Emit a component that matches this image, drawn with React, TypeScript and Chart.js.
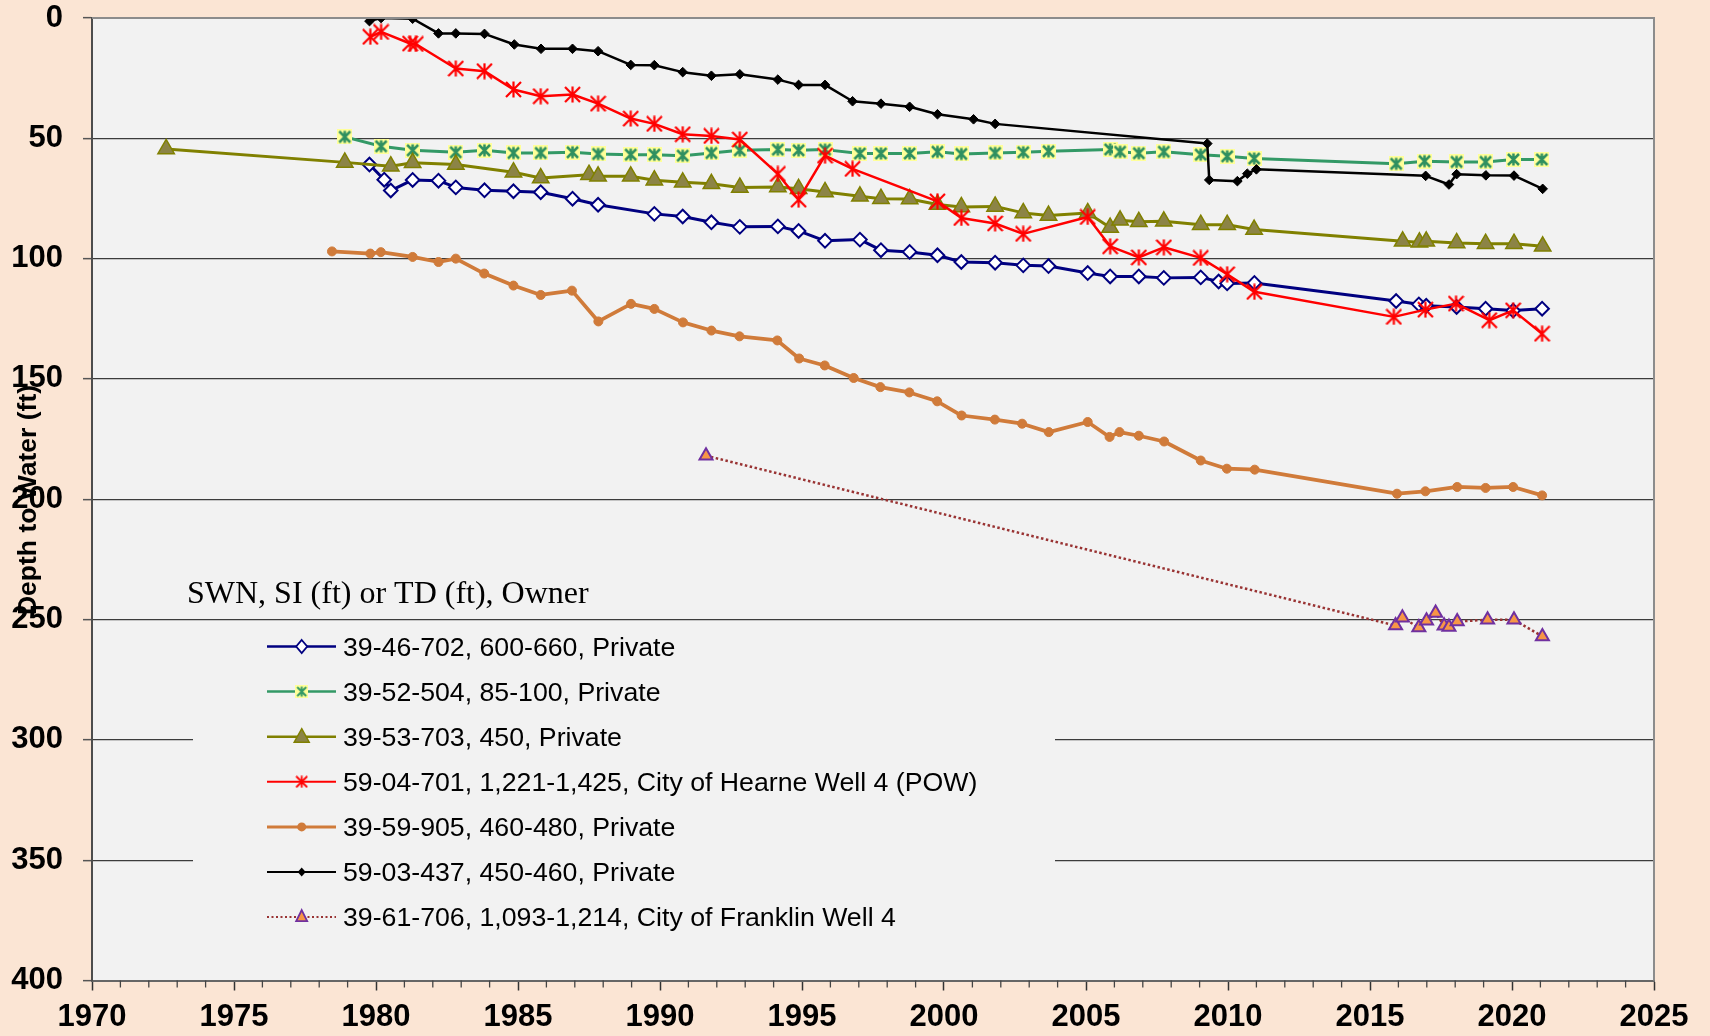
import React, { useEffect, useRef } from "react";
import { Chart, registerables } from "chart.js";

Chart.register(...registerables);

// ---------- axis settings ----------
const xMin = 1970;
const xMax = 2025;
const yMin = 0;
const yMax = 400;
const yTickStep = 50;
const xLabelStep = 5;

// ---------- texts ----------
const yAxisTitle = "Depth to Water (ft)";
const legendTitle = "SWN, SI (ft) or TD (ft), Owner";
const seriesNames = [
  "39-46-702, 600-660, Private",
  "39-52-504, 85-100, Private",
  "39-53-703, 450, Private",
  "59-04-701, 1,221-1,425, City of Hearne Well 4 (POW)",
  "39-59-905, 460-480, Private",
  "59-03-437, 450-460, Private",
  "39-61-706, 1,093-1,214, City of Franklin Well 4",
];

// ---------- data (year, depth to water in ft) ----------
const w4646702Years = [1979.77, 1980.29, 1980.52, 1981.29, 1982.2, 1982.81, 1983.82, 1984.84, 1985.8, 1986.92, 1987.82, 1989.8, 1990.8, 1991.81, 1992.81, 1994.15, 1994.88, 1995.81, 1997.04, 1997.78, 1998.79, 1999.77, 2000.61, 2001.8, 2002.79, 2003.68, 2005.06, 2005.85, 2006.86, 2007.74, 2009.04, 2009.67, 2009.97, 2010.93, 2015.92, 2016.72, 2016.98, 2018.05, 2019.07, 2020.04, 2021.06];
const w4646702Depths = [60.9, 67.2, 71.7, 67.3, 67.6, 70.4, 71.6, 72.0, 72.4, 75.1, 77.6, 81.4, 82.5, 84.9, 86.8, 86.6, 88.5, 92.6, 92.1, 96.5, 97.2, 98.6, 101.4, 101.7, 102.8, 103.1, 106.0, 107.4, 107.4, 108.0, 107.8, 109.5, 110.3, 110.1, 117.6, 119.0, 119.6, 120.1, 120.8, 121.6, 120.8];

const w3952504Years = [1978.9, 1980.18, 1981.29, 1982.81, 1983.82, 1984.84, 1985.8, 1986.92, 1987.82, 1988.97, 1989.8, 1990.8, 1991.81, 1992.81, 1994.15, 1994.88, 1995.81, 1997.04, 1997.78, 1998.79, 1999.77, 2000.61, 2001.8, 2002.79, 2003.68, 2005.85, 2006.2, 2006.86, 2007.74, 2009.04, 2009.97, 2010.92, 2015.92, 2016.92, 2018.05, 2019.07, 2020.05, 2021.05];
const w3952504Depths = [49.4, 53.3, 55.0, 55.8, 55.0, 56.1, 56.1, 55.8, 56.5, 56.8, 56.8, 57.2, 56.1, 55.0, 54.7, 55.0, 54.7, 56.3, 56.3, 56.3, 55.6, 56.5, 56.1, 55.8, 55.4, 54.6, 55.6, 56.2, 55.6, 56.8, 57.5, 58.4, 60.6, 59.5, 59.8, 59.8, 58.8, 58.8];

const w3953703Years = [1972.61, 1978.9, 1980.52, 1981.29, 1982.81, 1984.84, 1985.8, 1987.5, 1987.82, 1988.97, 1989.8, 1990.8, 1991.81, 1992.81, 1994.15, 1994.88, 1995.81, 1997.04, 1997.78, 1998.79, 1999.77, 2000.61, 2001.8, 2002.79, 2003.68, 2005.06, 2005.85, 2006.2, 2006.86, 2007.74, 2009.04, 2009.97, 2010.92, 2016.15, 2016.74, 2016.98, 2018.05, 2019.07, 2020.07, 2021.08];
const w3953703Depths = [54.4, 60.0, 61.6, 60.2, 60.9, 64.1, 66.5, 65.1, 65.8, 65.8, 67.4, 68.3, 68.9, 70.4, 70.2, 71.0, 72.3, 74.1, 75.1, 75.2, 77.5, 78.5, 78.3, 81.0, 82.1, 81.0, 87.1, 84.1, 84.7, 84.5, 85.9, 85.9, 87.9, 92.8, 93.2, 92.8, 93.5, 93.8, 93.8, 94.9];

const w5904701Years = [1979.8, 1980.18, 1981.2, 1981.4, 1982.81, 1983.82, 1984.84, 1985.8, 1986.92, 1987.82, 1988.97, 1989.8, 1990.8, 1991.81, 1992.81, 1994.15, 1994.88, 1995.81, 1996.78, 1999.77, 2000.61, 2001.8, 2002.79, 2005.06, 2005.85, 2006.86, 2007.74, 2009.04, 2009.97, 2010.93, 2015.84, 2016.95, 2018.03, 2019.2, 2020.04, 2021.06];
const w5904701Depths = [7.8, 5.8, 10.6, 10.8, 21.0, 22.1, 29.7, 32.5, 31.8, 35.6, 41.8, 44.0, 48.3, 49.0, 50.5, 64.8, 75.5, 57.2, 62.7, 76.2, 83.1, 85.4, 89.7, 82.7, 94.9, 99.5, 95.3, 99.7, 106.5, 113.8, 124.2, 121.2, 118.7, 125.6, 121.5, 131.2];

const w3959905Years = [1978.45, 1979.8, 1980.17, 1981.29, 1982.2, 1982.81, 1983.81, 1984.84, 1985.8, 1986.9, 1987.83, 1988.98, 1989.8, 1990.81, 1991.81, 1992.8, 1994.13, 1994.9, 1995.8, 1996.82, 1997.76, 1998.78, 1999.76, 2000.62, 2001.79, 2002.75, 2003.69, 2005.06, 2005.83, 2006.18, 2006.86, 2007.75, 2009.04, 2009.96, 2010.94, 2015.95, 2016.95, 2018.07, 2019.07, 2020.04, 2021.06];
const w3959905Depths = [97.0, 97.9, 97.3, 99.3, 101.4, 100.0, 106.2, 111.2, 115.1, 113.3, 126.1, 118.8, 120.9, 126.5, 129.9, 132.3, 134.0, 141.5, 144.4, 149.6, 153.4, 155.6, 159.3, 165.2, 166.9, 168.6, 172.1, 167.9, 174.1, 172.1, 173.6, 176.0, 183.9, 187.3, 187.7, 197.7, 196.7, 194.9, 195.3, 194.9, 198.4];

const w5903437Years = [1979.77, 1980.18, 1981.29, 1982.2, 1982.81, 1983.82, 1984.87, 1985.81, 1986.92, 1987.82, 1988.97, 1989.8, 1990.8, 1991.81, 1992.81, 1994.15, 1994.88, 1995.81, 1996.78, 1997.78, 1998.79, 1999.77, 2001.04, 2001.8, 2009.27, 2009.34, 2010.33, 2010.68, 2011.0, 2016.96, 2017.78, 2018.05, 2019.08, 2020.07, 2021.08];
const w5903437Depths = [1.3, 0, 0.3, 6.4, 6.4, 6.6, 11.0, 12.8, 12.8, 13.8, 19.5, 19.6, 22.5, 24.0, 23.4, 25.6, 27.8, 27.8, 34.6, 35.6, 36.9, 40.0, 42.1, 44.0, 52.2, 67.3, 67.8, 64.7, 62.9, 65.6, 69.2, 64.9, 65.4, 65.5, 71.0];

const w3961706Years = [1991.62, 2015.9, 2016.14, 2016.72, 2016.99, 2017.31, 2017.61, 2017.78, 2018.07, 2019.14, 2020.07, 2021.07];
const w3961706Depths = [181.9, 252.5, 249.2, 253.3, 250.5, 247.3, 252.6, 253.1, 250.8, 250.1, 250.1, 257.0];

const seriesYears = [w4646702Years, w3952504Years, w3953703Years, w5904701Years, w3959905Years, w5903437Years, w3961706Years];
const seriesDepths = [w4646702Depths, w3952504Depths, w3953703Depths, w5904701Depths, w3959905Depths, w5903437Depths, w3961706Depths];

// ---------- styles ----------
type Marker = "diamondOpen" | "starGreen" | "triOlive" | "starRed" | "dot" | "diamondBlack" | "triFranklin";
const seriesStyles: { color: string; width: number; dash: number[]; legendWidth: number; marker: Marker }[] = [
  { color: "#000080", width: 3, dash: [], legendWidth: 2.5, marker: "diamondOpen" },
  { color: "#339966", width: 3, dash: [], legendWidth: 2.5, marker: "starGreen" },
  { color: "#808000", width: 3, dash: [], legendWidth: 2.5, marker: "triOlive" },
  { color: "#FF0000", width: 2.5, dash: [], legendWidth: 2, marker: "starRed" },
  { color: "#D07B3A", width: 3.75, dash: [], legendWidth: 3, marker: "dot" },
  { color: "#000000", width: 2.5, dash: [], legendWidth: 2, marker: "diamondBlack" },
  { color: "#993333", width: 2.5, dash: [2.5, 2.5], legendWidth: 2, marker: "triFranklin" },
];

const PAGE_BG = "#FBE5D4";
const PLOT_BG = "#F2F2F2";
const SANS = '"Liberation Sans", Arial, sans-serif';
const SERIF = '"Liberation Serif", "Times New Roman", serif';

function makeStar(size: number, color: string, lw: number, bg: string | null): HTMLCanvasElement {
  const c = document.createElement("canvas");
  c.width = size;
  c.height = size;
  const g = c.getContext("2d")!;
  const m = size / 2;
  if (bg) {
    g.fillStyle = bg;
    g.fillRect(0, 0, size, size);
  }
  const r = m - (bg ? 2 : 1);
  g.strokeStyle = color;
  g.lineWidth = lw;
  g.beginPath();
  g.moveTo(m, m - r - 0.5);
  g.lineTo(m, m + r + 0.5);
  g.moveTo(m - r, m - r);
  g.lineTo(m + r, m + r);
  g.moveTo(m - r, m + r);
  g.lineTo(m + r, m - r);
  g.stroke();
  return c;
}

function pointOpts(marker: Marker, stars: Record<string, HTMLCanvasElement>) {
  switch (marker) {
    case "diamondOpen":
      return { pointStyle: "rectRot", pointRadius: 6.8, pointBackgroundColor: "#FFFFFF", pointBorderColor: "#000080", pointBorderWidth: 2 };
    case "starGreen":
      return { pointStyle: stars.green, pointRadius: 8 };
    case "triOlive":
      return { pointStyle: "triangle", pointRadius: 9.5, pointBackgroundColor: "#8C8446", pointBorderColor: "#808000", pointBorderWidth: 1.5 };
    case "starRed":
      return { pointStyle: stars.red, pointRadius: 9 };
    case "dot":
      return { pointStyle: "circle", pointRadius: 4.5, pointBackgroundColor: "#D07B3A", pointBorderColor: "#D07B3A", pointBorderWidth: 1 };
    case "diamondBlack":
      return { pointStyle: "rectRot", pointRadius: 4.8, pointBackgroundColor: "#000000", pointBorderColor: "#000000", pointBorderWidth: 1 };
    case "triFranklin":
    default:
      return { pointStyle: "triangle", pointRadius: 7.5, pointBackgroundColor: "#F79646", pointBorderColor: "#7030A0", pointBorderWidth: 2 };
  }
}

function drawLegendMarker(ctx: CanvasRenderingContext2D, marker: Marker, x: number, y: number, stars: Record<string, HTMLCanvasElement>) {
  ctx.save();
  ctx.setLineDash([]);
  switch (marker) {
    case "diamondOpen":
      ctx.beginPath();
      ctx.moveTo(x, y - 6.5);
      ctx.lineTo(x + 5.5, y);
      ctx.lineTo(x, y + 6.5);
      ctx.lineTo(x - 5.5, y);
      ctx.closePath();
      ctx.fillStyle = "#FFFFFF";
      ctx.fill();
      ctx.strokeStyle = "#000080";
      ctx.lineWidth = 1.8;
      ctx.stroke();
      break;
    case "starGreen":
      ctx.drawImage(stars.greenSmall, x - stars.greenSmall.width / 2, y - stars.greenSmall.height / 2);
      break;
    case "starRed":
      ctx.drawImage(stars.redSmall, x - stars.redSmall.width / 2, y - stars.redSmall.height / 2);
      break;
    case "triOlive":
      ctx.beginPath();
      ctx.moveTo(x, y - 8);
      ctx.lineTo(x + 7.5, y + 5.5);
      ctx.lineTo(x - 7.5, y + 5.5);
      ctx.closePath();
      ctx.fillStyle = "#8C8446";
      ctx.fill();
      ctx.strokeStyle = "#808000";
      ctx.lineWidth = 1.5;
      ctx.stroke();
      break;
    case "dot":
      ctx.beginPath();
      ctx.arc(x, y, 4.5, 0, Math.PI * 2);
      ctx.fillStyle = "#D07B3A";
      ctx.fill();
      break;
    case "diamondBlack":
      ctx.beginPath();
      ctx.moveTo(x, y - 4.5);
      ctx.lineTo(x + 4, y);
      ctx.lineTo(x, y + 4.5);
      ctx.lineTo(x - 4, y);
      ctx.closePath();
      ctx.fillStyle = "#000000";
      ctx.fill();
      break;
    case "triFranklin":
      ctx.beginPath();
      ctx.moveTo(x, y - 7);
      ctx.lineTo(x + 5.5, y + 4);
      ctx.lineTo(x - 5.5, y + 4);
      ctx.closePath();
      ctx.fillStyle = "#F79646";
      ctx.fill();
      ctx.strokeStyle = "#7030A0";
      ctx.lineWidth = 1.8;
      ctx.stroke();
      break;
  }
  ctx.restore();
}

export default function App() {
  const canvasRef = useRef<HTMLCanvasElement | null>(null);

  useEffect(() => {
    document.body.style.margin = "0";
    document.body.style.background = PAGE_BG;
    const canvas = canvasRef.current;
    if (!canvas) return;

    const stars: Record<string, HTMLCanvasElement> = {
      green: makeStar(15, "#2F9060", 2.5, "#FFFF99"),
      greenSmall: makeStar(13, "#339966", 2, "#FFFF99"),
      red: makeStar(17, "#FF0000", 2.2, null),
      redSmall: makeStar(13, "#FF0000", 1.8, null),
    };

    const datasets = seriesNames.map((name, i) => {
      const st = seriesStyles[i];
      const yrs = seriesYears[i];
      const dps = seriesDepths[i];
      return {
        label: name,
        data: yrs.map((yr, k) => ({ x: yr, y: dps[k] })),
        borderColor: st.color,
        borderWidth: st.width,
        borderDash: st.dash,
        borderJoinStyle: "round" as const,
        tension: 0,
        fill: false,
        order: seriesNames.length - i,
        ...pointOpts(st.marker, stars),
      };
    });

    const decor = {
      id: "decor",
      beforeDraw(chart: any) {
        const { ctx, chartArea: a } = chart;
        ctx.save();
        ctx.fillStyle = PLOT_BG;
        ctx.fillRect(a.left, a.top, a.right - a.left, a.bottom - a.top);
        ctx.restore();
      },
      afterDraw(chart: any) {
        const { ctx, chartArea: a, scales } = chart;
        ctx.save();
        // top and right frame
        ctx.strokeStyle = "#8C8C8C";
        ctx.lineWidth = 2;
        ctx.beginPath();
        ctx.moveTo(a.left, a.top);
        ctx.lineTo(a.right, a.top);
        ctx.lineTo(a.right, a.bottom);
        ctx.stroke();

        // minor x ticks
        ctx.strokeStyle = "#444444";
        ctx.lineWidth = 1.3;
        for (let yr = xMin + 1; yr < xMax; yr++) {
          if (yr % xLabelStep === 0) continue;
          const px = scales.x.getPixelForValue(yr);
          ctx.beginPath();
          ctx.moveTo(px, a.bottom);
          ctx.lineTo(px, a.bottom + 7);
          ctx.stroke();
        }

        // legend box
        ctx.fillStyle = PLOT_BG;
        ctx.fillRect(193, 623, 862, 320);
        // legend title
        ctx.fillStyle = "#000000";
        ctx.font = `32px ${SERIF}`;
        ctx.textAlign = "left";
        ctx.textBaseline = "alphabetic";
        ctx.fillText(legendTitle, 187, 603);
        // entries
        ctx.font = `26.7px ${SANS}`;
        seriesNames.forEach((name, i) => {
          const st = seriesStyles[i];
          const y = 646.5 + i * 45.1;
          ctx.save();
          ctx.strokeStyle = st.color;
          ctx.lineWidth = st.legendWidth;
          ctx.setLineDash(st.dash.length ? [2, 2.5] : []);
          ctx.beginPath();
          ctx.moveTo(267, y);
          ctx.lineTo(336, y);
          ctx.stroke();
          ctx.restore();
          drawLegendMarker(ctx, st.marker, 301.7, y, stars);
          ctx.fillStyle = "#000000";
          ctx.fillText(name, 343, y + 9);
        });

        // y axis title
        ctx.save();
        ctx.translate(35.5, 500);
        ctx.rotate(-Math.PI / 2);
        ctx.font = `bold 26.5px ${SANS}`;
        ctx.textAlign = "center";
        ctx.textBaseline = "alphabetic";
        ctx.fillStyle = "#000000";
        ctx.fillText(yAxisTitle, 0, 0);
        ctx.restore();
        ctx.restore();
      },
    };

    const chart = new Chart(canvas, {
      type: "line",
      data: { datasets: datasets as any },
      options: {
        animation: false,
        responsive: false,
        events: [],
        layout: { padding: { top: 18, right: 56, bottom: 0, left: 0 } },
        plugins: {
          legend: { display: false },
          tooltip: { enabled: false },
          title: { display: false },
        },
        scales: {
          x: {
            type: "linear",
            min: xMin,
            max: xMax,
            afterFit: (s: any) => {
              s.height = 55.5;
              s.paddingLeft = 0;
              s.paddingRight = 0;
            },
            ticks: {
              stepSize: 1,
              maxTicksLimit: 200,
              autoSkip: false,
              maxRotation: 0,
              padding: 8.5,
              color: "#000000",
              font: { family: SANS, size: 31, weight: "bold" },
              callback: (v: any) => (Number(v) % xLabelStep === 0 ? String(v) : ""),
            },
            grid: {
              drawOnChartArea: false,
              drawTicks: true,
              tickLength: 10,
              tickWidth: 1.5,
              tickColor: (c: any) => (c.tick && c.tick.value % xLabelStep === 0 ? "#333333" : "rgba(0,0,0,0)"),
            },
            border: { display: true, color: "#666666", width: 2 },
          },
          y: {
            type: "linear",
            reverse: true,
            min: yMin,
            max: yMax,
            afterFit: (s: any) => {
              s.width = 92;
              s.paddingTop = 0;
              s.paddingBottom = 0;
            },
            ticks: {
              stepSize: yTickStep,
              padding: 20,
              color: "#000000",
              font: { family: SANS, size: 31, weight: "bold" },
            },
            grid: {
              color: (c: any) => (c.tick && (c.tick.value === yMin || c.tick.value === yMax) ? "rgba(0,0,0,0)" : "#3C3C3C"),
              lineWidth: 1.3,
              tickLength: 9,
              tickColor: "#555555",
              tickWidth: 1.5,
            },
            border: { display: true, color: "#4D4D4D", width: 2 },
          },
        },
      },
      plugins: [decor],
    } as any);

    return () => chart.destroy();
  }, []);

  return (
    <div style={{ width: 1710, height: 1036, background: PAGE_BG, overflow: "hidden" }}>
      <canvas ref={canvasRef} width={1710} height={1036} style={{ display: "block" }} />
    </div>
  );
}
